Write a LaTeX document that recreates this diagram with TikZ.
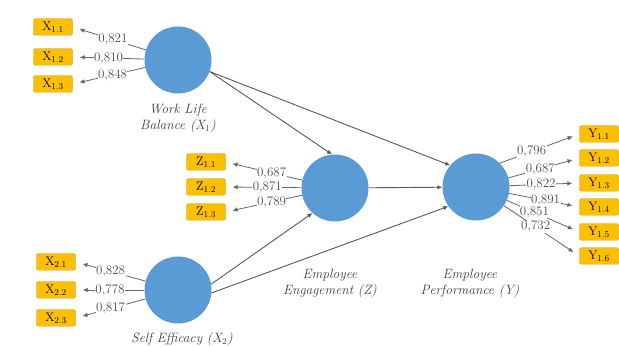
\documentclass[tikz,border=0pt]{standalone}
\usepackage{tikz}
\usetikzlibrary{arrows.meta,positioning,calc}
\definecolor{lvblue}{RGB}{91,155,213}
\definecolor{indgold}{RGB}{252,192,0}
\definecolor{indedge}{RGB}{205,150,10}

\begin{document}
\begin{tikzpicture}[
    x=1pt, y=-1pt,
    latent/.style={circle, fill=lvblue, minimum size=67pt, inner sep=0pt},
    ind/.style={draw=indedge, fill=indgold, rounded corners=1.5pt,
                minimum width=39pt, minimum height=16.5pt, inner sep=0pt,
                font=\fontsize{12.5}{13}\selectfont},
    arr/.style={-{Latex[length=5pt,width=4.5pt]}, draw=black!65, line width=0.9pt},
    load/.style={-{Latex[length=5pt,width=4.5pt]}, draw=black!60, line width=0.8pt,
                 shorten >=7pt},
    val/.style={fill=white, inner sep=0.4pt, text=black!70,
                font=\fontsize{13}{13}\selectfont},
    lvname/.style={align=center, text=black!75,
                   font=\fontsize{13.5}{16}\selectfont\itshape}
]
\clip (0,0) rectangle (619,347);
\fill[white] (0,0) rectangle (619,347);

% latent variables
\node[latent] (wlb) at (178,60) {};
\node[latent] (se) at (178,290) {};
\node[latent] (eng) at (335,188) {};
\node[latent] (perf) at (476,187) {};

\node[lvname] (wlbname) at (178,118) {Work Life\\Balance (X$_1$)};
\node[lvname] (sename) at (182,339) {Self Efficacy (X$_2$)};
\node[lvname] (engname) at (330,284) {Employee\\Engagement (Z)};
\node[lvname] (perfname) at (470,284) {Employee\\Performance (Y)};

% indicators
\node[ind] (x11) at (53,27) {X$_{1.1}$};
\node[ind] (x12) at (53,57) {X$_{1.2}$};
\node[ind] (x13) at (53,84) {X$_{1.3}$};

\node[ind] (x21) at (56,262) {X$_{2.1}$};
\node[ind] (x22) at (56,290) {X$_{2.2}$};
\node[ind] (x23) at (56,318) {X$_{2.3}$};

\node[ind] (z11) at (206,162) {Z$_{1.1}$};
\node[ind] (z12) at (206,187) {Z$_{1.2}$};
\node[ind] (z13) at (206,212) {Z$_{1.3}$};

\node[ind] (y11) at (599,134) {Y$_{1.1}$};
\node[ind] (y12) at (599,158) {Y$_{1.2}$};
\node[ind] (y13) at (599,183) {Y$_{1.3}$};
\node[ind] (y14) at (599,207) {Y$_{1.4}$};
\node[ind] (y15) at (599,232) {Y$_{1.5}$};
\node[ind] (y16) at (599,256) {Y$_{1.6}$};

% outer loadings
\draw[load] (wlb) -- node[val, pos=0.45] {0,821} (x11.east);
\draw[load] (wlb) -- node[val, pos=0.5] {0,810} (x12.east);
\draw[load] (wlb) -- node[val, pos=0.45] {0,848} (x13.east);

\draw[load] (se) -- node[val] {0,828} (x21.east);
\draw[load] (se) -- node[val] {0,778} (x22.east);
\draw[load] (se) -- node[val] {0,817} (x23.east);

\draw[load] (eng) -- node[val, pos=0.4] {0,687} (z11.east);
\draw[load] (eng) -- node[val, pos=0.45] {0,871} (z12.east);
\draw[load] (eng) -- node[val, pos=0.4] {0,789} (z13.east);

\draw[load] (perf.45) -- node[val, pos=0.4] {0,796} (y11.west);
\draw[load] (perf) -- node[val, pos=0.45] {0,687} (y12.west);
\draw[load] (perf) -- node[val, pos=0.45] {0,822} (y13.west);
\draw[load] (perf) -- node[val, pos=0.52] {0,891} (y14.west);
\draw[load] (perf) -- node[val, pos=0.38] {0,851} (y15.west);
\draw[load] (perf) -- node[val, pos=0.42] {0,732} (y16.west);

% structural paths
\draw[arr] (wlb.-20) -- (eng.95);
\draw[arr] (wlb.-20) -- (perf.140);
\draw[arr] (eng) -- (perf);
\draw[arr] (se.10) -- (eng.-132);
\draw[arr] (se.-5) -- (perf.-145);

\end{tikzpicture}
\end{document}
